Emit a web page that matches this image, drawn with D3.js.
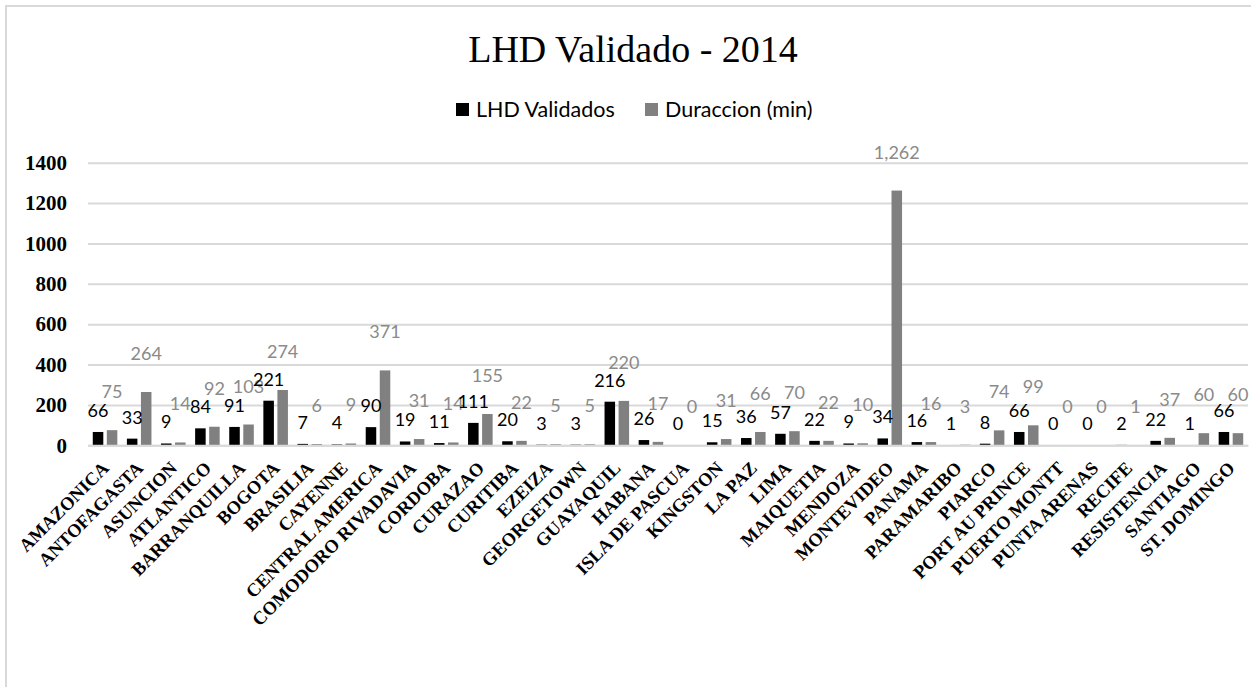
<!DOCTYPE html>
<html>
<head>
<meta charset="utf-8">
<script src="https://cdn.jsdelivr.net/npm/d3@7"></script>
<style>
  body { margin: 0; background: #fff; }
</style>
</head>
<body>
<svg width="1251" height="687"></svg>
<script>
var categories = ["AMAZONICA", "ANTOFAGASTA", "ASUNCION", "ATLANTICO", "BARRANQUILLA", "BOGOTA",
    "BRASILIA", "CAYENNE", "CENTRAL AMERICA", "COMODORO RIVADAVIA", "CORDOBA", "CURAZAO",
    "CURITIBA", "EZEIZA", "GEORGETOWN", "GUAYAQUIL", "HABANA", "ISLA DE PASCUA", "KINGSTON",
    "LA PAZ", "LIMA", "MAIQUETIA", "MENDOZA", "MONTEVIDEO", "PANAMA", "PARAMARIBO", "PIARCO",
    "PORT AU PRINCE", "PUERTO MONTT", "PUNTA ARENAS", "RECIFE", "RESISTENCIA", "SANTIAGO",
    "ST. DOMINGO"];
var lhdValidados = [66, 33, 9, 84, 91, 221, 7, 4, 90, 19, 11, 111, 20, 3, 3, 216, 26, 0, 15,
    36, 57, 22, 9, 34, 16, 1, 8, 66, 0, 0, 2, 22, 1, 66];
var duraccion = [75, 264, 14, 92, 103, 274, 6, 9, 371, 31, 14, 155, 22, 5, 5, 220, 17, 0, 31,
    66, 70, 22, 10, 1262, 16, 3, 74, 99, 0, 0, 1, 37, 60, 60];
var seriesNames = ["LHD Validados", "Duraccion (min)"];
var yTicks = [0, 200, 400, 600, 800, 1000, 1200, 1400];

var colors = ["#000000", "#808080"];
var labelColors = ["#000000", "#8a8a8a"];
var labelFont = "Lato, 'Open Sans', sans-serif";
var serif = "'Liberation Serif', 'Times New Roman', serif";

var svg = d3.select("svg");

// chart frame (right and bottom edges fall outside the picture)
svg.append("rect")
    .attr("x", 6).attr("y", 6)
    .attr("width", 1300).attr("height", 720)
    .attr("fill", "none")
    .attr("stroke", "#d9d9d9")
    .attr("stroke-width", 2);

// title
svg.append("text")
    .attr("x", 633).attr("y", 62)
    .attr("text-anchor", "middle")
    .style("font-family", serif)
    .style("font-size", "38px")
    .text("LHD Validado - 2014");

// legend
var legend = svg.append("g");
var legendX = [456, 645];
seriesNames.forEach(function(name, i) {
    legend.append("rect")
        .attr("x", legendX[i]).attr("y", 103)
        .attr("width", 13).attr("height", 13)
        .attr("fill", colors[i]);
    legend.append("text")
        .attr("x", legendX[i] + 20).attr("y", 117)
        .style("font-family", labelFont)
        .style("font-size", "21.5px")
        .attr("fill", "#000")
        .text(name);
});

// scales
var x0 = d3.scaleBand()
    .domain(categories)
    .range([88, 1248])
    .paddingInner(0.28)
    .paddingOuter(0.14);
var x1 = d3.scaleBand()
    .domain([0, 1])
    .range([0, x0.bandwidth()])
    .paddingInner(0.25);
var y = d3.scaleLinear()
    .domain([0, 1400])
    .range([445.3, 162.7]);

// grid
var yAxis = d3.axisLeft(y)
    .tickValues(yTicks)
    .tickFormat(d3.format("d"))
    .tickSize(-(1248 - 88))
    .tickPadding(21);
var gy = svg.append("g")
    .attr("transform", "translate(88,0)")
    .call(yAxis);
gy.select(".domain").remove();
gy.selectAll(".tick line")
    .attr("stroke", "#d9d9d9")
    .attr("stroke-width", 2);
gy.selectAll(".tick text")
    .style("font-family", serif)
    .style("font-size", "21px")
    .style("font-weight", "bold")
    .attr("fill", "#000");

// bars
var rows = categories.map(function(c, i) {
    return { cat: c, vals: [lhdValidados[i], duraccion[i]] };
});
var groups = svg.append("g").selectAll("g")
    .data(rows)
    .enter()
    .append("g")
    .attr("transform", d => `translate(${x0(d.cat)},0)`);

groups.selectAll("rect")
    .data(d => d.vals.map((v, k) => ({ k: k, v: v })))
    .enter()
    .append("rect")
    .attr("x", d => x1(d.k))
    .attr("width", x1.bandwidth())
    .attr("y", d => y(d.v))
    .attr("height", d => y(0) - y(d.v))
    .attr("fill", d => colors[d.k]);

// data labels
var labelLift = [15, 32];
groups.selectAll("text")
    .data(d => d.vals.map((v, k) => ({ k: k, v: v })))
    .enter()
    .append("text")
    .attr("x", d => x1(d.k) + x1.bandwidth() / 2)
    .attr("y", d => y(d.v) - labelLift[d.k])
    .attr("text-anchor", "middle")
    .style("font-family", labelFont)
    .style("font-size", "18px")
    .attr("fill", d => labelColors[d.k])
    .text(d => d3.format(",")(d.v));

// x axis
var xAxis = d3.axisBottom(x0).tickSize(0).tickPadding(0);
var gx = svg.append("g")
    .attr("transform", `translate(0,${y(0)})`)
    .call(xAxis);
gx.select(".domain")
    .attr("stroke", "#d9d9d9")
    .attr("stroke-width", 2);
gx.selectAll(".tick text")
    .attr("text-anchor", "end")
    .attr("dy", 0)
    .attr("transform", "translate(5,24) rotate(-45)")
    .style("font-family", serif)
    .style("font-size", "18.5px")
    .style("font-weight", "bold")
    .attr("fill", "#000");
</script>
</body>
</html>
